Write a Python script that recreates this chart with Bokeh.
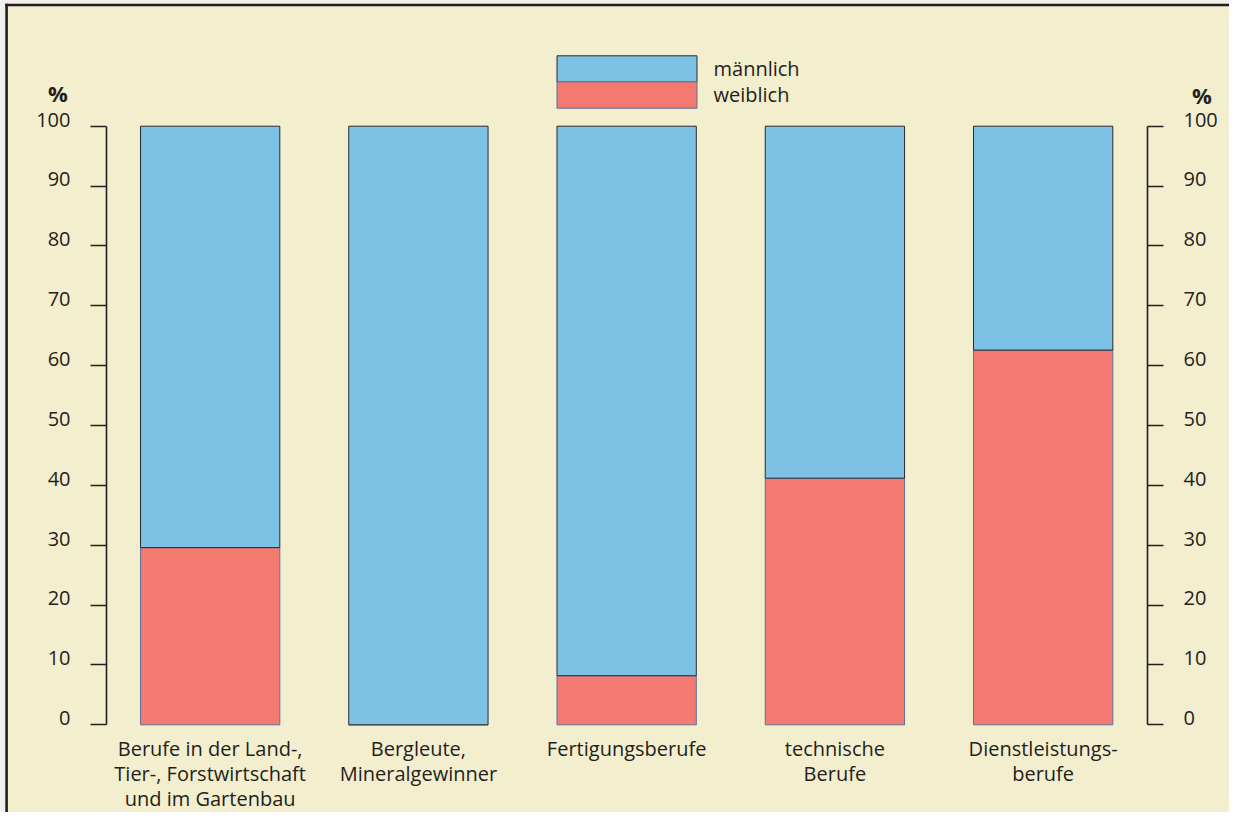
from bokeh.plotting import figure
from bokeh.models import (LinearAxis, FixedTicker, ColumnDataSource, Legend,
                          LegendItem, Range1d, BoxAnnotation, Label)
from bokeh.core.properties import value
from bokeh.embed import file_html
from bokeh.resources import INLINE

# ---------------- data ----------------
categories = [
    "Berufe in der Land-,\nTier-, Forstwirtschaft\nund im Gartenbau",
    "Bergleute,\nMineralgewinner",
    "Fertigungsberufe",
    "technische\nBerufe",
    "Dienstleistungs-\nberufe",
]
weiblich = [29.6, 0.0, 8.2, 41.2, 62.6]
maennlich = [70.4, 100.0, 91.8, 58.8, 37.4]
y_ticks = [0, 10, 20, 30, 40, 50, 60, 70, 80, 90, 100]
series_labels = ["männlich", "weiblich"]
unit_label = "%"

# ---------------- style / layout ----------------
BG = "#F3EECD"
BLUE = "#7DC1E5"
RED = "#F27A70"
INK = "#231F20"
FONT = "Open Sans"
LABEL_RAISE = 1.1      # tick labels sit slightly above their ticks

W, H = 1229, 812
PX_PER_CAT = 208.25    # horizontal pixels per category
CAT0_PX = 209.65       # pixel centre of the first category
PX_PER_PCT = 5.986     # vertical pixels per percent
ZERO_PX = 724.3        # pixel row of 0 %


def px_x(px):
    return (px - CAT0_PX) / PX_PER_CAT


def px_y(py):
    return (ZERO_PX - py) / PX_PER_PCT


p = figure(width=W, height=H, output_backend="svg", toolbar_location=None,
           x_range=Range1d(px_x(0), px_x(W)), y_range=Range1d(px_y(H), px_y(0)),
           x_axis_type=None, y_axis_type=None,
           min_border_left=0, min_border_right=0,
           min_border_top=0, min_border_bottom=0,
           background_fill_color=BG, border_fill_color=BG,
           outline_line_color=None)
p.grid.visible = False

label_ticks = [t + LABEL_RAISE for t in y_ticks]
label_overrides = {t + LABEL_RAISE: str(t) for t in y_ticks}

for side, loc_px in (("left", 106), ("right", 1147)):
    ax = LinearAxis(ticker=FixedTicker(ticks=y_ticks), bounds=(0, 100),
                    fixed_location=px_x(loc_px),
                    axis_line_color=INK, axis_line_width=1.6,
                    major_tick_line_color=INK, major_tick_line_width=1.6,
                    major_tick_in=0, major_tick_out=16,
                    minor_tick_line_color=None,
                    major_label_standoff=0,
                    major_label_overrides={t: "" for t in y_ticks},
                    major_label_text_font_size="0px")
    p.add_layout(ax, side)
    lab = LinearAxis(ticker=FixedTicker(ticks=label_ticks),
                     fixed_location=px_x(loc_px),
                     axis_line_color=None, major_tick_line_color=None,
                     major_tick_in=0, major_tick_out=0,
                     minor_tick_line_color=None,
                     major_label_standoff=36,
                     major_label_overrides=label_overrides,
                     major_label_text_font=FONT,
                     major_label_text_font_size="20px",
                     major_label_text_color=INK)
    p.add_layout(lab, side)

src = ColumnDataSource(dict(x=list(range(len(categories))), weiblich=weiblich,
                            maennlich=maennlich, label=categories))

rs = p.vbar_stack(["weiblich", "maennlich"], x="x", width=0.669, source=src,
                  fill_color=[RED, BLUE], line_color=["#5d6f9c", "#2a2a2a"],
                  line_width=1)

p.text(x="x", y=px_y(734), text="label", source=src, text_align="center",
       text_baseline="top", text_font=value(FONT), text_font_size="20px",
       text_color=INK, text_line_height=0.93)

legend_pos = [(538.5, 727.3), (538.5, 700.9)]
for lbl, rend, loc in zip(series_labels, [rs[1], rs[0]], legend_pos):
    lg = Legend(items=[LegendItem(label=lbl, renderers=[rend])],
                location=loc, orientation="vertical",
                glyph_width=175, glyph_height=33, spacing=0, padding=0,
                margin=0, border_line_color=None, background_fill_alpha=0,
                label_standoff=0, label_text_font=FONT,
                label_text_font_size="20px", label_text_color=INK)
    p.add_layout(lg)

# unit labels above both scales
for ux, uy in ((57.5, 92), (1201.5, 94)):
    p.add_layout(Label(x=px_x(ux), y=px_y(uy), text=unit_label,
                       text_align="center", text_baseline="middle",
                       text_font=FONT, text_font_size="22px",
                       text_font_style="bold", text_color=INK))

# panel frame (top and left edge) and page margin outside it
p.add_layout(BoxAnnotation(left=px_x(0), right=px_x(4.8), top=px_y(0),
                           bottom=px_y(H), fill_color="#EEEEEE", fill_alpha=1,
                           line_color=None))
p.add_layout(BoxAnnotation(left=px_x(0), right=px_x(W), top=px_y(0),
                           bottom=px_y(3.3), fill_color="#EEEEEE", fill_alpha=1,
                           line_color=None))
p.add_layout(BoxAnnotation(left=px_x(4.8), right=px_x(7.4), top=px_y(3.3),
                           bottom=px_y(H), fill_color="#1f1f1f", fill_alpha=1,
                           line_color=None))
p.add_layout(BoxAnnotation(left=px_x(4.8), right=px_x(W), top=px_y(3.3),
                           bottom=px_y(5.8), fill_color="#1f1f1f", fill_alpha=1,
                           line_color=None))

open("out.html", "w").write(file_html(p, INLINE))
